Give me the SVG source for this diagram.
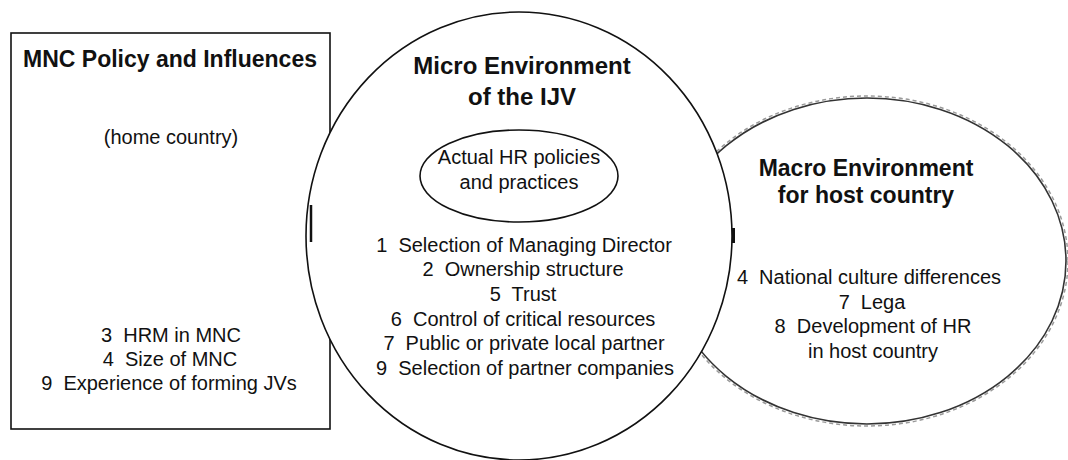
<svg xmlns="http://www.w3.org/2000/svg" width="1068" height="460" viewBox="0 0 1068 460">
  <style>
    .t { font-family: "Liberation Sans", Arial, sans-serif; font-size: 20px; fill: #111; text-anchor: middle; white-space: pre; }
    .h { font-family: "Liberation Sans", Arial, sans-serif; font-size: 23px; font-weight: bold; fill: #111; text-anchor: middle; white-space: pre; }
    .shape { fill: #fff; stroke: #111; stroke-width: 1.6; }
  </style>
  <rect width="1068" height="460" fill="#fff"/>

  <g id="node-mnc">
    <rect class="shape" x="11" y="33" width="319" height="396"/>
    <text class="h" x="170" y="67">MNC Policy and Influences</text>
    <text class="t" x="171" y="144">(home country)</text>
    <text class="t" x="171" y="342" xml:space="preserve">3  HRM in MNC</text>
    <text class="t" x="170" y="366" xml:space="preserve">4  Size of MNC</text>
    <text class="t" x="169" y="390" xml:space="preserve">9  Experience of forming JVs</text>
  </g>

  <g id="node-macro">
    <ellipse cx="867" cy="261" rx="201" ry="165" fill="none" stroke="#9a9a9a" stroke-width="1.5" stroke-dasharray="4 3"/>
    <ellipse cx="867" cy="261" rx="199" ry="163" fill="#fff" stroke="#333" stroke-width="1.6"/>
    <text class="h" x="866" y="176">Macro Environment</text>
    <text class="h" x="866" y="203">for host country</text>
    <text class="t" x="869" y="284" xml:space="preserve">4  National culture differences</text>
    <text class="t" x="872" y="309" xml:space="preserve">7  Lega</text>
    <text class="t" x="873" y="333" xml:space="preserve">8  Development of HR</text>
    <text class="t" x="873" y="358">in host country</text>
  </g>

  <g id="node-micro">
    <ellipse class="shape" cx="519" cy="236" rx="213" ry="224"/>
    <text class="h" x="522" y="74" style="font-size:24px">Micro Environment</text>
    <text class="h" x="522" y="105" style="font-size:24px">of the IJV</text>
    <text class="t" x="524" y="252" xml:space="preserve">1  Selection of Managing Director</text>
    <text class="t" x="523" y="276" xml:space="preserve">2  Ownership structure</text>
    <text class="t" x="523" y="301" xml:space="preserve">5  Trust</text>
    <text class="t" x="523" y="326" xml:space="preserve">6  Control of critical resources</text>
    <text class="t" x="524" y="350" xml:space="preserve">7  Public or private local partner</text>
    <text class="t" x="525" y="375" xml:space="preserve">9  Selection of partner companies</text>
  </g>

  <g id="node-hr">
    <ellipse class="shape" cx="519" cy="176" rx="99" ry="46"/>
    <text class="t" x="519" y="164">Actual HR policies</text>
    <text class="t" x="519" y="189">and practices</text>
  </g>

  <g id="connectors"/>

  <g id="marks" stroke="#111" stroke-linecap="butt">
    <line x1="311" y1="205" x2="311" y2="242" stroke-width="2.5"/>
    <line x1="733.5" y1="228" x2="733.5" y2="243" stroke-width="3"/>
  </g>
</svg>
